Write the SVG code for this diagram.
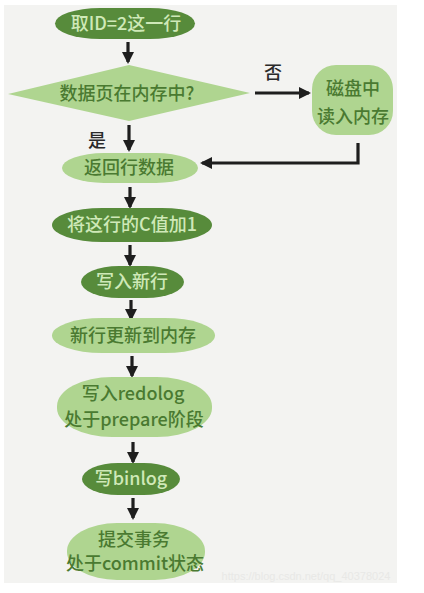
<svg xmlns="http://www.w3.org/2000/svg" width="424" height="593" viewBox="0 0 424 593">
<defs>
<marker id="ah" viewBox="0 0 12 12" refX="10" refY="6" markerWidth="12" markerHeight="12" markerUnits="userSpaceOnUse" orient="auto">
<path d="M0,0 L12,6 L0,12 Z" fill="#1e1e1e"/>
</marker>
<style>
.dark{fill:#578b3b}
.light{fill:#afd590}
.tl{font-family:"Noto Sans CJK SC","Noto Sans",sans-serif;font-size:18px;font-weight:500;fill:#cfe9b8;text-anchor:middle}
.td{font-family:"Noto Sans CJK SC","Noto Sans",sans-serif;font-size:18px;font-weight:500;fill:#4a7a31;text-anchor:middle}
.lab{font-family:"Noto Sans CJK SC",sans-serif;font-size:18px;font-weight:500;fill:#2a2a2a;text-anchor:middle}
.c{stroke:#1e1e1e;stroke-width:3.2;fill:none;marker-end:url(#ah)}
</style>
</defs>
<rect width="424" height="593" fill="#ffffff"/>
<rect x="4" y="5" width="393" height="578" fill="#f3f3f1"/>

<g id="connectors">
<line class="c" x1="128" y1="42" x2="128" y2="62"/>
<line class="c" x1="255" y1="93" x2="309" y2="93"/>
<line class="c" x1="129" y1="125" x2="129" y2="150"/>
<polyline class="c" points="358,143 358,163 202,163"/>
<line class="c" x1="130" y1="187" x2="130" y2="207"/>
<line class="c" x1="130" y1="245" x2="130" y2="265"/>
<line class="c" x1="131" y1="300" x2="131" y2="319"/>
<line class="c" x1="132" y1="356" x2="132" y2="376"/>
<line class="c" x1="133" y1="442" x2="133" y2="462"/>
<line class="c" x1="133" y1="498" x2="133" y2="518"/>
<text class="lab" x="273" y="79">否</text>
<text class="lab" x="97" y="147">是</text>
</g>

<g id="n1">
<rect class="dark" x="55" y="8" width="140" height="31" rx="45" ry="15.5"/>
<text class="tl" x="126" y="30">取ID=2这一行</text>
</g>

<g id="n2">
<polygon class="light" points="8,94 129,65 250,93 129,121"/>
<text class="td" x="127" y="100">数据页在内存中?</text>
</g>

<g id="n3">
<rect class="light" x="312" y="65" width="81" height="70" rx="24" ry="24"/>
<text class="td" x="353" y="95">磁盘中</text>
<text class="td" x="353" y="123">读入内存</text>
</g>

<g id="n4">
<rect class="light" x="62" y="153" width="136" height="30" rx="42" ry="15"/>
<text class="td" x="129" y="174">返回行数据</text>
</g>

<g id="n5">
<rect class="dark" x="52" y="208" width="160" height="34" rx="50" ry="17"/>
<text class="tl" x="132" y="231">将这行的C值加1</text>
</g>

<g id="n6">
<rect class="dark" x="81" y="266" width="103" height="32" rx="38" ry="16"/>
<text class="tl" x="132" y="288">写入新行</text>
</g>

<g id="n7">
<rect class="light" x="52" y="318" width="163" height="35" rx="50" ry="17.5"/>
<text class="td" x="133" y="342">新行更新到内存</text>
</g>

<g id="n8">
<rect class="light" x="57" y="377" width="155" height="60" rx="55" ry="29"/>
<text class="td" x="133" y="400">写入redolog</text>
<text class="td" x="134" y="426">处于prepare阶段</text>
</g>

<g id="n9">
<rect class="dark" x="82" y="463" width="98" height="32" rx="36" ry="16"/>
<text class="tl" x="131" y="485">写binlog</text>
</g>

<g id="n10">
<rect class="light" x="67" y="523" width="138" height="57" rx="50" ry="28"/>
<text class="td" x="134" y="546">提交事务</text>
<text class="td" x="135" y="570">处于commit状态</text>
</g>

<text x="306" y="580" font-family="Liberation Sans,sans-serif" font-size="11" fill="#e8e8e6" text-anchor="middle">https://blog.csdn.net/qq_40378024</text>
</svg>
